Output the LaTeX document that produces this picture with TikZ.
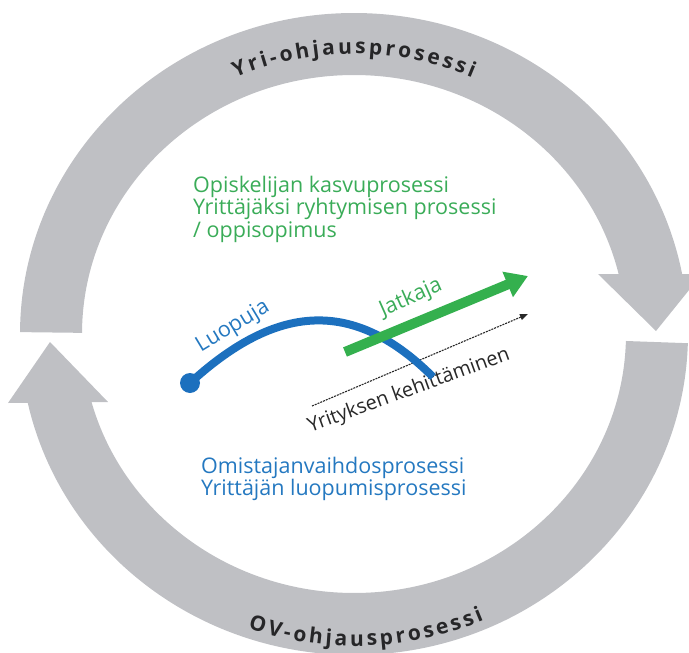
\documentclass[tikz,border=0pt]{standalone}
\usepackage{fontspec}
\setmainfont{Open Sans}
\newfontfamily\ringfont[WordSpace=0.55]{Open Sans}
\usetikzlibrary{arrows.meta,decorations.text,calc}

\definecolor{ringgray}{RGB}{191,192,196}
\definecolor{ringtext}{RGB}{38,38,40}
\definecolor{grntext}{RGB}{58,172,88}
\definecolor{grnarrow}{RGB}{52,176,78}
\definecolor{blutext}{RGB}{36,120,192}
\definecolor{blucurve}{RGB}{28,112,190}
\definecolor{darkline}{RGB}{40,40,40}

\begin{document}
\begin{tikzpicture}[x=1pt,y=-1pt,
  ringseg/.style={draw=ringgray,line width=62pt},
  ringhead/.style={fill=ringgray},
  ringlabel/.style={decorate,decoration={text along path,text align=center,text color=ringtext,
      text={|\ringfont\bfseries\fontsize{21}{25}\selectfont|#1}}},
  intext/.style={inner sep=0pt,anchor=base west,font=\fontsize{21.5}{26}\selectfont},
  grn/.style={intext,text=grntext},
  blu/.style={intext,text=blutext},
  tag/.style={inner sep=0pt,font=\fontsize{21.5}{26}\selectfont}]
\useasboundingbox (0,0) rectangle (689,653);
\coordinate (C) at (354,334);

% outer cycle: two thick arcs with arrowheads
\draw[ringseg] ($(C)+(180.3:303 and 290)$) arc[start angle=180.3,end angle=350,x radius=303,y radius=290];
\fill[ringhead] (598,274) -- (702,274) -- (656,331) -- cycle;
\draw[ringseg] ($(C)+(1.6:303 and 290)$) arc[start angle=1.6,end angle=168,x radius=303,y radius=290];
\fill[ringhead] (8,403) -- (108,402) -- (50,342) -- cycle;

% letter-spaced labels on the ring
\path[ringlabel={Y r i - o h j a u s p r o s e s s i}] ($(C)+(201:293 and 280)$) arc[start angle=201,end angle=339,x radius=293,y radius=280];
\path[ringlabel={O V - o h j a u s p r o s e s s i}] ($(C)+(147.7:325 and 312)$) arc[start angle=147.7,end angle=27.7,x radius=325,y radius=312];

% process texts
\node[grn] (g1) at (193,192) {Opiskelijan kasvuprosessi};
\node[grn] (g2) at (193,214.5) {Yrittäjäksi ryhtymisen prosessi};
\node[grn] (g3) at (193,237) {/ oppisopimus};
\node[blu] (b1) at (201,473) {Omistajanvaihdosprosessi};
\node[blu] (b2) at (201,495) {Yrittäjän luopumisprosessi};

% development axis
\coordinate (kS) at (312,406);
\coordinate (kE) at (528,314);
\draw[darkline,line width=1.1pt,dash pattern=on 2pt off 1pt,-{Triangle[length=8pt,width=6pt]}] (kS) -- (kE);
\node[tag,text=darkline,rotate=20,font=\fontsize{20}{24}\selectfont] (kt) at (409,391) {Yrityksen kehittäminen};

% leaving entrepreneur
\node[circle,fill=blucurve,minimum size=20pt,inner sep=0pt] (dot) at (190,383) {};
\coordinate (lE) at (433,377);
\draw[blucurve,line width=8pt] (dot.center) .. controls (270,310) and (348,292) .. (lE);
\node[tag,text=blutext,rotate=31] (lt) at (233,327) {Luopuja};

% continuing entrepreneur
\coordinate (jS) at (345,352);
\coordinate (jE) at (528,276);
\draw[grnarrow,line width=10pt,-{Triangle[length=22pt,width=26pt]}] (jS) -- (jE);
\node[tag,text=grntext,rotate=24] (jt) at (411,298) {Jatkaja};
\end{tikzpicture}
\end{document}
